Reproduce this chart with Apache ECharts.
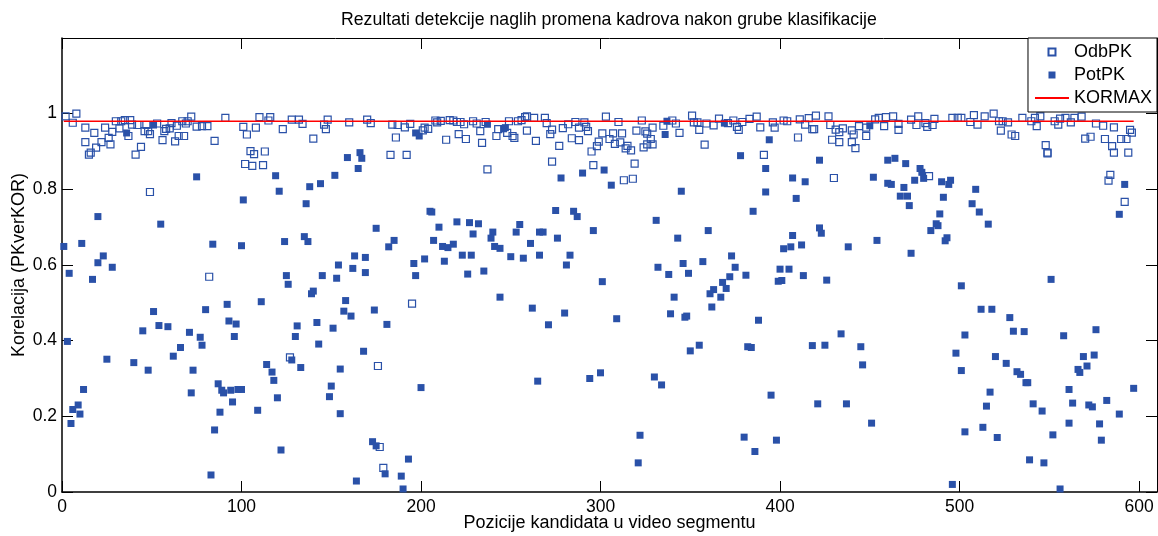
<!DOCTYPE html>
<html>
<head>
<meta charset="utf-8">
<script src="https://cdn.jsdelivr.net/npm/echarts@6/dist/echarts.min.js"></script>
<style>
html,body{margin:0;padding:0;background:#fff;}
#chart{width:1158px;height:536px;}
</style>
</head>
<body>
<div id="chart"></div>
<script>
// ---- data ----
const titleText = 'Rezultati detekcije naglih promena kadrova nakon grube klasifikacije';
const xName = 'Pozicije kandidata u video segmentu';
const yName = 'Korelacija (PKverKOR)';
const xTicks = [0, 100, 200, 300, 400, 500, 600];
const yTicks = [0, 0.2, 0.4, 0.6, 0.8, 1];
const kormaxValue = 0.98;
const kormaxRange = [1, 597];

const odbPK = [
[2,0.993],[8,1.0],[6,0.976],[13,0.963],[18,0.949],[13,0.925],[15,0.892],[16,0.897],[19,0.910],[22,0.925],
[24,0.963],[26,0.936],[27,0.919],[28,0.952],[30,0.980],[32,0.961],[33,0.980],[35,0.983],[37,0.941],[38,0.983],
[39,0.971],[41,0.892],[42,0.970],[44,0.912],[46,0.954],[47,0.970],[48,0.954],[49,0.946],[53,0.974],[56,0.930],
[57,0.954],[58,0.960],[60,0.961],[61,0.975],[63,0.927],[64,0.968],[65,0.941],[67,0.980],[68,0.941],[69,0.974],
[70,0.980],[72,0.992],[75,0.966],[78,0.967],[81,0.967],[85,0.928],[91,0.989],[49,0.793],[82,0.569],
[101,0.965],[103,0.945],[108,0.963],[110,0.991],[115,0.982],[116,0.991],[123,0.959],[128,0.984],[132,0.984],[134,0.973],
[140,0.934],[146,0.971],[147,0.959],[148,0.984],[160,0.977],[170,0.984],[172,0.975],[184,0.971],[186,0.937],[187,0.970],
[191,0.964],[194,0.973],[105,0.901],[107,0.893],[113,0.900],[102,0.867],[106,0.862],[112,0.864],[183,0.891],[192,0.891],
[195,0.498],[127,0.356],[176,0.333],[177,0.119],[179,0.064],
[201,0.956],[202,0.963],[204,0.960],[208,0.982],[209,0.977],[211,0.981],[216,0.983],[218,0.982],[220,0.978],[222,0.978],
[224,0.972],[229,0.980],[231,0.974],[236,0.978],[233,0.954],[221,0.946],[225,0.933],[214,0.931],[234,0.923],[242,0.941],
[243,0.959],[248,0.949],[249,0.980],[251,0.941],[252,0.936],[254,0.980],[256,0.983],[258,0.991],[259,0.993],[263,0.989],
[259,0.955],[264,0.928],[269,0.989],[270,0.975],[273,0.958],[272,0.946],[277,0.915],[279,0.962],[282,0.972],[284,0.935],
[286,0.978],[288,0.930],[288,0.963],[291,0.977],[292,0.965],[293,0.954],[299,0.926],[298,0.914],[295,0.900],[301,0.948],
[273,0.873],[296,0.864],[237,0.853],[303,0.992],
[310,0.978],[323,0.982],[307,0.948],[312,0.948],[305,0.933],[308,0.920],[311,0.924],[314,0.908],[315,0.915],[317,0.903],
[320,0.955],[325,0.953],[326,0.947],[326,0.919],[328,0.933],[329,0.919],[324,0.911],[319,0.868],[313,0.824],[318,0.828],
[329,0.963],[335,0.968],[340,0.982],[342,0.974],[344,0.949],[351,0.995],[352,0.977],[354,0.977],[355,0.957],[358,0.918],
[359,0.974],[363,0.969],[366,0.987],[371,0.975],[374,0.982],[376,0.965],[377,0.957],[379,0.978],[383,0.986],[387,0.992],
[389,0.964],[391,0.891],[396,0.977],[397,0.963],[402,0.982],
[404,0.980],[411,0.985],[416,0.988],[420,0.995],[414,0.971],[418,0.959],[419,0.959],[427,0.993],[428,0.970],[410,0.937],
[431,0.958],[433,0.951],[435,0.961],[440,0.956],[444,0.967],[441,0.945],[433,0.925],[429,0.931],[440,0.925],[442,0.909],
[448,0.941],[448,0.963],[453,0.985],[455,0.989],[458,0.967],[459,0.991],[463,0.993],[466,0.973],[466,0.957],[473,0.984],
[476,0.970],[477,0.993],[481,0.975],[482,0.965],[485,0.970],[486,0.986],[496,0.989],[499,0.989],[501,0.989],[430,0.830],
[483,0.835],
[508,0.996],[506,0.978],[510,0.971],[514,0.993],[519,1.0],[522,0.980],[524,0.980],[523,0.955],[527,0.977],[529,0.945],
[531,0.941],[535,0.989],[540,0.980],[542,0.989],[543,0.967],[545,0.993],[548,0.917],[549,0.895],[549,0.897],[553,0.980],
[555,0.971],[556,0.987],[559,0.989],[562,0.977],[564,0.989],[568,0.992],[570,0.934],[573,0.939],[576,0.974],[580,0.968],
[581,0.933],[585,0.914],[586,0.897],[586,0.964],[590,0.933],[593,0.933],[594,0.897],[595,0.957],[596,0.950],[584,0.838],
[583,0.823],[592,0.767]
];

const potPK = [
[36,0.949],[51,0.970],[75,0.833],[20,0.728],[55,0.708],[1,0.649],[11,0.657],[84,0.655],[100,0.651],[23,0.624],
[20,0.606],[28,0.594],[4,0.578],[17,0.562],[101,0.772],[51,0.477],[80,0.482],[92,0.496],[93,0.452],[97,0.444],
[96,0.411],[54,0.440],[59,0.437],[45,0.426],[71,0.422],[77,0.409],[78,0.388],[66,0.382],[62,0.359],[3,0.398],
[25,0.351],[40,0.342],[48,0.322],[73,0.322],[12,0.271],[87,0.286],[89,0.269],[90,0.262],[94,0.269],[98,0.271],
[72,0.262],[95,0.238],[9,0.230],[6,0.218],[10,0.206],[88,0.211],[5,0.181],[85,0.164],[83,0.045],
[197,0.949],[199,0.941],[166,0.897],[167,0.882],[159,0.884],[165,0.855],[152,0.837],[144,0.815],[138,0.807],[119,0.836],
[121,0.795],[136,0.762],[175,0.697],[124,0.662],[135,0.675],[137,0.662],[185,0.665],[182,0.648],[163,0.624],[169,0.620],
[154,0.600],[162,0.591],[169,0.580],[196,0.604],[202,0.616],[197,0.572],[125,0.572],[126,0.549],[145,0.572],[153,0.565],
[139,0.524],[140,0.531],[111,0.503],[158,0.506],[157,0.478],[161,0.465],[174,0.481],[181,0.443],[131,0.439],[142,0.448],
[151,0.433],[130,0.411],[143,0.391],[168,0.372],[114,0.337],[128,0.349],[133,0.329],[155,0.325],[117,0.317],[118,0.295],
[100,0.271],[200,0.276],[150,0.280],[149,0.252],[120,0.249],[109,0.216],[155,0.207],[173,0.133],[175,0.122],[122,0.111],
[193,0.087],[180,0.048],[189,0.042],[164,0.029],[190,0.008],
[237,0.972],[246,0.960],[247,0.963],[278,0.830],[290,0.843],[302,0.851],[205,0.742],[206,0.740],[275,0.744],[285,0.742],
[287,0.728],[220,0.714],[227,0.712],[232,0.709],[210,0.700],[255,0.707],[229,0.682],[240,0.687],[253,0.687],[266,0.687],
[268,0.687],[239,0.671],[276,0.671],[296,0.691],[207,0.665],[212,0.649],[215,0.646],[218,0.655],[241,0.649],[244,0.644],
[261,0.657],[223,0.626],[228,0.626],[250,0.622],[257,0.618],[266,0.626],[283,0.626],[213,0.610],[281,0.600],[226,0.576],
[235,0.584],[301,0.556],[244,0.515],[262,0.486],[280,0.473],[271,0.442],[265,0.293],[294,0.300],[300,0.315],
[336,0.945],[337,0.980],[369,0.975],[394,0.931],[378,0.889],[392,0.855],[306,0.811],[345,0.795],[392,0.793],[385,0.742],
[331,0.718],[360,0.691],[343,0.671],[402,0.643],[373,0.624],[357,0.609],[346,0.604],[332,0.594],[375,0.594],[338,0.575],
[349,0.578],[381,0.573],[400,0.589],[399,0.557],[401,0.559],[372,0.569],[368,0.554],[363,0.535],[370,0.538],[361,0.524],
[367,0.515],[341,0.515],[362,0.489],[339,0.471],[347,0.462],[348,0.465],[309,0.458],[388,0.454],[355,0.388],[350,0.373],
[382,0.384],[384,0.382],[330,0.304],[334,0.283],[395,0.256],[322,0.150],[380,0.145],[398,0.137],[386,0.107],[321,0.077],
[450,0.968],[422,0.877],[460,0.877],[464,0.882],[470,0.868],[478,0.855],[479,0.845],[480,0.829],[475,0.824],[407,0.830],
[414,0.820],[452,0.832],[460,0.816],[462,0.813],[469,0.805],[467,0.782],[471,0.782],[472,0.757],[490,0.820],[495,0.824],
[494,0.813],[491,0.779],[409,0.776],[489,0.735],[487,0.709],[488,0.704],[484,0.691],[493,0.672],[492,0.664],[422,0.698],
[423,0.684],[407,0.678],[406,0.648],[412,0.653],[438,0.648],[454,0.665],[473,0.631],[405,0.589],[413,0.572],[426,0.560],
[501,0.545],[434,0.418],[418,0.387],[425,0.388],[445,0.384],[446,0.336],[503,0.415],[498,0.367],[501,0.321],[421,0.233],
[437,0.233],[451,0.182],[503,0.159],[496,0.020],
[509,0.800],[507,0.762],[511,0.740],[516,0.708],[592,0.813],[589,0.734],[551,0.562],[512,0.483],[518,0.483],[528,0.461],
[530,0.425],[536,0.424],[558,0.413],[576,0.429],[520,0.358],[526,0.340],[532,0.318],[534,0.311],[537,0.289],[538,0.289],
[569,0.358],[575,0.362],[571,0.333],[566,0.324],[567,0.316],[517,0.264],[561,0.271],[597,0.274],[541,0.233],[546,0.214],
[563,0.235],[572,0.230],[574,0.225],[582,0.242],[515,0.227],[589,0.206],[513,0.171],[521,0.144],[552,0.151],[561,0.182],
[578,0.180],[579,0.137],[539,0.085],[547,0.077],[556,0.008]
];

const kormax = [[kormaxRange[0], kormaxValue], [kormaxRange[1], kormaxValue]];

// ---- chart ----
const FONT = '"Liberation Sans", Arial, sans-serif';
const BLUE = '#2A51A8';
const SQUARE = 'path://M0,0L10,0L10,10L0,10Z';
const chart = echarts.init(document.getElementById('chart'), null, {renderer: 'canvas'});

const yFmt = v => (v > 1.05 ? '' : String(+v.toFixed(1)));
const tickStyle = {show: true, inside: true, length: 11, lineStyle: {color: '#000', width: 1}};

chart.setOption({
  animation: false,
  backgroundColor: '#fff',
  textStyle: {fontFamily: FONT},
  title: {
    text: titleText, left: 336, top: 6,
    textStyle: {fontFamily: FONT, fontSize: 17.7, fontWeight: 'normal', color: '#000'}
  },
  grid: {left: 62, top: 38, right: 1, bottom: 44, containLabel: false, outerBoundsMode: 'none'},
  legend: {
    orient: 'vertical', right: 1, top: 38,
    backgroundColor: '#fff', borderColor: '#000', borderWidth: 1,
    padding: [5, 5, 5, 6], itemGap: 5, itemWidth: 34, itemHeight: 7,
    symbolKeepAspect: true,
    textStyle: {fontFamily: FONT, fontSize: 18, color: '#000', lineHeight: 18},
    data: [
      {name: 'OdbPK', icon: SQUARE},
      {name: 'PotPK', icon: SQUARE},
      {name: 'KORMAX', itemStyle: {opacity: 0}}
    ]
  },
  xAxis: [{
    type: 'value', min: 0, max: 610, interval: 100, position: 'bottom',
    name: xName, nameLocation: 'middle', nameGap: 22, nameMoveOverlap: false,
    nameTextStyle: {fontFamily: FONT, fontSize: 18, color: '#000'},
    axisLine: {show: true, onZero: false, lineStyle: {color: '#000', width: 1.5}},
    axisTick: tickStyle,
    axisLabel: {fontFamily: FONT, fontSize: 17.5, color: '#000', margin: 6,
      formatter: v => (xTicks.indexOf(v) >= 0 ? String(v) : '')},
    splitLine: {show: false}
  }, {
    type: 'value', min: 0, max: 610, interval: 100, position: 'top',
    axisLine: {show: true, onZero: false, lineStyle: {color: '#000', width: 1}},
    axisTick: tickStyle, axisLabel: {show: false}, splitLine: {show: false}
  }],
  yAxis: [{
    type: 'value', min: 0, max: 1.2, interval: 0.2, position: 'left',
    name: yName, nameLocation: 'middle', nameGap: 34, nameRotate: 90, nameMoveOverlap: false,
    nameTextStyle: {fontFamily: FONT, fontSize: 18, color: '#000'},
    axisLine: {show: true, onZero: false, lineStyle: {color: '#000', width: 1.5}},
    axisTick: tickStyle,
    axisLabel: {fontFamily: FONT, fontSize: 17.5, color: '#000', margin: 5, formatter: yFmt},
    splitLine: {show: false}
  }, {
    type: 'value', min: 0, max: 1.2, interval: 0.2, position: 'right',
    axisLine: {show: true, onZero: false, lineStyle: {color: '#000', width: 1}},
    axisTick: tickStyle, axisLabel: {show: false}, splitLine: {show: false}
  }],
  series: [{
    name: 'OdbPK', type: 'scatter', data: odbPK, symbol: 'rect', symbolSize: 7, clip: false,
    itemStyle: {color: 'rgba(255,255,255,0)', borderColor: BLUE, borderWidth: 1.2, opacity: 1}
  }, {
    name: 'PotPK', type: 'scatter', data: potPK, symbol: 'rect', symbolSize: 7, clip: false,
    itemStyle: {color: BLUE, borderWidth: 0, opacity: 1}
  }, {
    name: 'KORMAX', type: 'line', data: kormax, symbol: 'none', z: 3,
    lineStyle: {color: '#FF0000', width: 1.3}, itemStyle: {color: '#FF0000'}
  }]
});
</script>
</body>
</html>
